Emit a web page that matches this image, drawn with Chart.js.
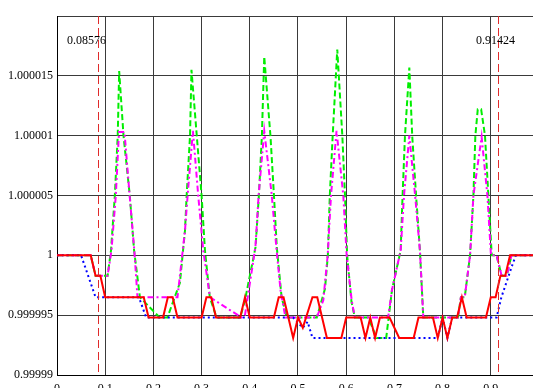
<!DOCTYPE html>
<html><head><meta charset="utf-8">
<script src="https://cdn.jsdelivr.net/npm/chart.js@4/dist/chart.umd.min.js"></script>
<style>html,body{margin:0;padding:0;background:#fff;overflow:hidden}</style>
</head><body>
<canvas id="c" width="533" height="388"></canvas>
<script>
// quantised levels
const L0 = 1, L1 = 0.9999983, L2 = 0.9999965, L3 = 0.9999948, L4 = 0.9999931;

const xTicks = [0, 0.1, 0.2, 0.3, 0.4, 0.5, 0.6, 0.7, 0.8, 0.9];
const xTickLabels = ['0', '0.1', '0.2', '0.3', '0.4', '0.5', '0.6', '0.7', '0.8', '0.9'];
const yTicks = [0.99999, 0.999995, 1, 1.000005, 1.00001, 1.000015, 1.00002];
const yTickLabels = ['0.99999', '0.999995', '1', '1.000005', '1.00001', '1.000015', ''];

const markers = [0.08576, 0.91424];
const markerLabels = ['0.08576', '0.91424'];

// red solid series
const redX = [0, 0.07, 0.08, 0.09, 0.10, 0.18, 0.19, 0.22, 0.23, 0.24, 0.25, 0.30, 0.31, 0.32, 0.33, 0.38, 0.39, 0.40,
  0.45, 0.46, 0.47, 0.48, 0.49, 0.50, 0.51, 0.53, 0.54, 0.55, 0.56, 0.59, 0.60, 0.63, 0.64, 0.65, 0.66, 0.67, 0.69, 0.71,
  0.74, 0.75, 0.78, 0.79, 0.80, 0.81, 0.82, 0.83, 0.84, 0.85, 0.89, 0.90, 0.91, 0.92, 0.93, 0.94, 0.99];
const redY = [L0, L0, L1, L1, L2, L2, L3, L3, L2, L2, L3, L3, L2, L2, L3, L3, L2, L3,
  L3, L2, L2, L3, L4, L3, 0.99999395, L2, L2, L3, L4, L4, L3, L3, L4, L3, L4, L3, L3, L4,
  L4, L3, L3, L4, L3, L4, L3, L3, L2, L3, L3, L2, L2, L1, L1, L0, L0];

// blue dotted series
const blueX = [0, 0.05, 0.08, 0.17, 0.185, 0.49, 0.51, 0.52, 0.53, 0.79, 0.80, 0.81, 0.82, 0.912, 0.922, 0.943, 0.952, 0.99];
const blueY = [L0, L0, L2, L2, L3, L3, 0.99999395, 0.99999445, L4, L4, L3, L4, L3, L3, L2, 0.999999, L0, L0];

// green dashed series
const greenX = [0, 0.07, 0.08, 0.105,
  0.112, 0.120, 0.126, 0.129, 0.138, 0.151, 0.160, 0.172,
  0.213, 0.229,
  0.255, 0.2656, 0.269, 0.276, 0.279, 0.290, 0.300, 0.307, 0.317, 0.331,
  0.38,
  0.39, 0.412, 0.419, 0.425, 0.430, 0.443, 0.450, 0.456, 0.466, 0.477,
  0.539,
  0.556, 0.562, 0.566, 0.572, 0.5815, 0.592, 0.5975, 0.602, 0.611, 0.618,
  0.646, 0.663, 0.683,
  0.695, 0.713, 0.717, 0.722, 0.731, 0.737, 0.745, 0.753, 0.760,
  0.832, 0.838, 0.846,
  0.857, 0.864, 0.868, 0.873, 0.880, 0.888, 0.895, 0.902, 0.912, 0.9225, 0.933, 0.943, 0.99];
const greenY = [L0, L0, L1, L1,
  1.0000004, 1.000005, 1.00001, 1.0000154, 1.00001, 1.000005, 1.0000004, L2,
  L3, L3,
  0.9999977, 1.0000021, 1.000005, 1.00001, 1.0000155, 1.00001, 1.000005, 1.0000004, L2, L3,
  L3,
  0.99999625, 1.0000007, 1.0000051, 1.0000099, 1.0000166, 1.0000099, 1.0000051, 1.0000007, L2, L3,
  L3,
  0.9999972, 1.0, 1.000005, 1.00001, 1.0000172, 1.00001, 1.000005, 1.0, 0.9999961, L3,
  L3, L4, L4,
  0.9999971, 1.0000004, 1.000005, 1.00001, 1.0000157, 1.00001, 1.000005, 1.0000004, L3,
  L3, L2, L2,
  1.0, 1.000005, 1.00001, 1.0000122, 1.0000122, 1.00001, 1.000005, 1.0, 1.0, L1, L1, L0, L0];

// magenta dash-dot series
const magentaX = [0, 0.07, 0.08, 0.105,
  0.113, 0.122, 0.1286, 0.14, 0.1507, 0.1604, 0.167,
  0.25,
  0.2656, 0.271, 0.282, 0.293, 0.3035, 0.3174,
  0.383,
  0.39, 0.4117, 0.4185, 0.430, 0.4454, 0.455, 0.464, 0.474,
  0.539,
  0.5525, 0.5616, 0.5685, 0.580, 0.594, 0.601, 0.6114, 0.618,
  0.687,
  0.695, 0.713, 0.720, 0.731, 0.743, 0.753, 0.760,
  0.832, 0.838, 0.846,
  0.857, 0.864, 0.881, 0.893, 0.9004, 0.912, 0.9225, 0.933, 0.943, 0.99];
const magentaY = [L0, L0, L1, L1,
  1.0000004, 1.000005, 1.0000103, 1.0000103, 1.000005, 1.0000004, L2,
  L2,
  1.0000021, 1.000005, 1.0000104, 1.000005, 1.0000004, L2,
  L3,
  0.999995, 1.0000007, 1.0000051, 1.0000104, 1.0000051, 1.0000007, 0.999997, L3,
  L3,
  0.99999625, 1.0, 1.000005, 1.0000104, 1.000005, 1.0, 0.99999625, L3,
  L3,
  0.9999971, 1.0000004, 1.000005, 1.00001, 1.000005, 1.0000004, L3,
  L3, L2, L2,
  1.0, 1.000005, 1.0000099, 1.000005, 1.0, 1.0, L1, L1, L0, L0];

const pts = (xs, ys) => xs.map((x, i) => ({x: x, y: ys[i]}));
const FONT = {family: '"Liberation Serif", "Times New Roman", serif', size: 12};

const markerPlugin = {
  id: 'markers',
  afterDatasetsDraw(chart) {
    const {ctx, chartArea: a, scales: {x}} = chart;
    const shift = [-12, -3];
    ctx.save();
    markers.forEach((m, i) => {
      const px = Math.round(x.getPixelForValue(m)) + 0.5;
      ctx.strokeStyle = '#e02a2a';
      ctx.lineWidth = 1;
      ctx.setLineDash([8, 4]);
      ctx.beginPath();
      ctx.moveTo(px, a.top);
      ctx.lineTo(px, a.bottom);
      ctx.stroke();
      ctx.fillStyle = '#000';
      ctx.font = '12px "Liberation Serif", "Times New Roman", serif';
      ctx.textAlign = 'center';
      ctx.textBaseline = 'middle';
      ctx.fillText(markerLabels[i], px + shift[i], a.top + 25);
    });
    ctx.restore();
  }
};

new Chart(document.getElementById('c'), {
  type: 'line',
  data: {
    datasets: [
      {label: 'red', data: pts(redX, redY), borderColor: '#ff0000', borderWidth: 2, pointRadius: 0, tension: 0},
      {label: 'blue', data: pts(blueX, blueY), borderColor: '#0000ff', borderWidth: 2, borderDash: [2, 3], pointRadius: 0, tension: 0},
      {label: 'magenta', data: pts(magentaX, magentaY), borderColor: '#ff00ff', borderWidth: 2, borderDash: [6, 3, 2, 3], pointRadius: 0, tension: 0},
      {label: 'green', data: pts(greenX, greenY), borderColor: '#00ee00', borderWidth: 2, borderDash: [6, 3], pointRadius: 0, tension: 0}
    ]
  },
  options: {
    responsive: false,
    animation: false,
    layout: {padding: {top: 16, left: 0, right: 0, bottom: 0}},
    plugins: {legend: {display: false}, tooltip: {enabled: false}},
    scales: {
      x: {
        type: 'linear', min: 0, max: 0.9876,
        afterBuildTicks: s => { s.ticks = xTicks.map(v => ({value: v})); },
        afterFit: s => { s.height = 13; },
        ticks: {callback: (v, i) => xTickLabels[i], font: FONT, color: '#000', padding: 7, maxRotation: 0, autoSkip: false},
        grid: {color: '#3a3a3a', lineWidth: 1, drawTicks: false},
        border: {display: true, color: '#000', width: 1}
      },
      y: {
        type: 'linear', min: 0.99999, max: 1.00002,
        afterBuildTicks: s => { s.ticks = yTicks.map(v => ({value: v})); },
        afterFit: s => { s.width = 57; },
        ticks: {callback: (v, i) => yTickLabels[i], font: FONT, color: '#000', padding: 4, autoSkip: false},
        grid: {color: '#3a3a3a', lineWidth: 1, drawTicks: false},
        border: {display: true, color: '#000', width: 1}
      }
    }
  },
  plugins: [markerPlugin]
});
</script>
</body></html>
